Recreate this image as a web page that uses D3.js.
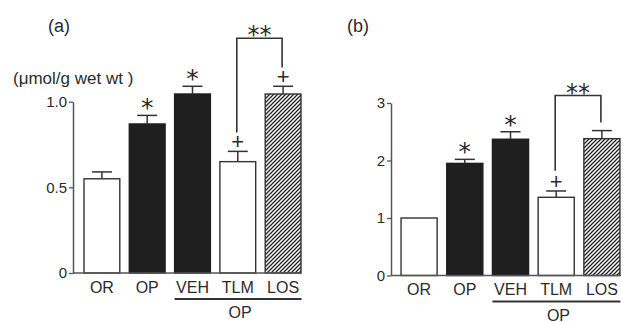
<!DOCTYPE html>
<html><head><meta charset="utf-8">
<script src="https://cdn.jsdelivr.net/npm/d3@7"></script>
<style>
body{margin:0;background:#fff}
text{font-family:"Liberation Sans",Arial,Helvetica,sans-serif;fill:#2b2b2b}
</style>
</head><body>
<svg id="chart" width="621" height="322"></svg>
<script>
// ---- data ----
const categories = ["OR", "OP", "VEH", "TLM", "LOS"];
const groupMembers = ["VEH", "TLM", "LOS"];
const groupLabel = "OP";

const valuesA = [0.55, 0.87, 1.045, 0.65, 1.045];
const errorsA = [0.04, 0.05, 0.045, 0.06, 0.045];
const marksA  = ["", "*", "*", "+", "+"];
const ticksA = [0, 0.5, 1.0];
const tickLabelsA = ["0", "0.5", "1.0"];
const bracketA = {from: "TLM", to: "LOS", fromY: 0.82, topY: 1.37, toY: 1.20, label: "**"};

const valuesB = [1.0, 1.95, 2.37, 1.36, 2.38];
const errorsB = [0, 0.07, 0.13, 0.11, 0.14];
const marksB  = ["", "*", "*", "+", ""];
const ticksB = [0, 1, 2, 3];
const tickLabelsB = ["0", "1", "2", "3"];
const bracketB = {from: "TLM", to: "LOS", fromY: 1.82, topY: 3.13, toY: 2.66, label: "**"};

const unitLabel = "(\u03bcmol/g wet wt )";

// ---- styles ----
const barStyle = {OR: "open", OP: "solid", VEH: "solid", TLM: "open", LOS: "hatch"};
const ink = "#2b2b2b";

const svg = d3.select("#chart");
const defs = svg.append("defs");
const pat = defs.append("pattern").attr("id", "hatch")
  .attr("patternUnits", "userSpaceOnUse").attr("width", 4).attr("height", 4);
pat.append("rect").attr("width", 4).attr("height", 4).attr("fill", "#fff");
pat.append("path").attr("d", "M-1,1 l2,-2 M0,4 l4,-4 M3,5 l2,-2")
  .attr("stroke", "#222").attr("stroke-width", 1.3);

function drawPanel(o) {
  const g = svg.append("g");
  const x = d3.scaleBand().domain(categories).range(o.xRange).paddingInner(0.21).paddingOuter(0.105);
  const y = d3.scaleLinear().domain(o.yDomain).range(o.yRange);
  const bw = x.bandwidth();
  const y0 = y(0);

  // y axis
  const ya = g.append("g").attr("transform", `translate(${o.axisX},0)`)
    .call(d3.axisLeft(y).tickValues(o.ticks).tickFormat((d, i) => o.tickLabels[i])
      .tickSize(4).tickSizeOuter(0).tickPadding(2));
  ya.select(".domain").attr("stroke", "#555").attr("stroke-width", 1.5);
  ya.selectAll(".tick line").attr("stroke", "#555").attr("stroke-width", 1.3);
  ya.selectAll(".tick text").attr("font-size", 15).attr("fill", ink)
    .style("font-family", '"Liberation Sans",Arial,sans-serif');

  // bars
  const data = categories.map((c, i) => ({c, v: o.values[i], e: o.errors[i], m: o.marks[i]}));
  g.selectAll(".bar").data(data).enter().append("rect")
    .attr("x", d => x(d.c)).attr("width", bw)
    .attr("y", d => y(d.v)).attr("height", d => y0 - y(d.v))
    .attr("fill", d => barStyle[d.c] === "solid" ? "#1e1f1e" : barStyle[d.c] === "hatch" ? "url(#hatch)" : "#fff")
    .attr("stroke", d => barStyle[d.c] === "solid" ? "#1e1f1e" : "#333")
    .attr("stroke-width", 1.4);

  // error bars
  const eb = data.filter(d => d.e > 0);
  g.selectAll(".err").data(eb).enter().append("line")
    .attr("x1", d => x(d.c) + bw / 2).attr("x2", d => x(d.c) + bw / 2)
    .attr("y1", d => y(d.v)).attr("y2", d => y(d.v + d.e))
    .attr("stroke", "#333").attr("stroke-width", 1.5);
  g.selectAll(".cap").data(eb).enter().append("line")
    .attr("x1", d => x(d.c) + bw / 2 - 10).attr("x2", d => x(d.c) + bw / 2 + 10)
    .attr("y1", d => y(d.v + d.e)).attr("y2", d => y(d.v + d.e))
    .attr("stroke", "#333").attr("stroke-width", 1.5);

  // markers
  g.selectAll(".mark").data(data.filter(d => d.m)).enter().append("text")
    .attr("x", d => x(d.c) + bw / 2)
    .attr("y", d => y(d.v + d.e) - (d.m === "*" ? -1 : 2))
    .attr("text-anchor", "middle")
    .attr("font-size", d => d.m === "*" ? 25 : 22)
    .style("font-family", d => d.m === "*" ? '"DejaVu Sans",sans-serif' : '"Liberation Sans",Arial,sans-serif')
    .text(d => d.m);

  // x axis line
  g.append("line").attr("x1", o.axisX).attr("x2", x(categories[categories.length - 1]) + bw + 0.5)
    .attr("y1", y0).attr("y2", y0).attr("stroke", "#555").attr("stroke-width", 1.5);
  const xa = g.append("g").attr("transform", `translate(0,${y0})`)
    .call(d3.axisBottom(x).tickSize(0).tickPadding(o.labelPad));
  xa.select(".domain").remove();
  xa.selectAll(".tick text").attr("font-size", 16).attr("fill", ink)
    .style("font-family", '"Liberation Sans",Arial,sans-serif');

  // group line
  const gx1 = x(groupMembers[0]), gx2 = x(groupMembers[groupMembers.length - 1]) + bw + 0.5;
  g.append("line").attr("x1", gx1).attr("x2", gx2).attr("y1", y0 + 26).attr("y2", y0 + 26)
    .attr("stroke", "#333").attr("stroke-width", 1.8);
  g.append("text").attr("x", (gx1 + gx2) / 2 + 2).attr("y", y0 + 45).attr("text-anchor", "middle")
    .attr("font-size", 16).text(groupLabel);

  // bracket
  const b = o.bracket;
  const bx1 = x(b.from) + bw / 2 - 1, bx2 = x(b.to) + bw / 2 - 1;
  g.append("path")
    .attr("d", `M${bx1},${y(b.fromY)}V${y(b.topY)}H${bx2}V${y(b.toY)}`)
    .attr("fill", "none").attr("stroke", "#333").attr("stroke-width", 1.6);
  g.append("text").attr("x", (bx1 + bx2) / 2).attr("y", y(b.topY) + 5)
    .attr("text-anchor", "middle").attr("font-size", 24)
    .style("font-family", '"DejaVu Sans",sans-serif').text(b.label);

  // panel label
  g.append("text").attr("x", o.tagX).attr("y", 32).attr("font-size", 18).text(o.tag);
}

drawPanel({values: valuesA, errors: errorsA, marks: marksA, ticks: ticksA, tickLabels: tickLabelsA,
  yDomain: [0, 1], yRange: [273, 101.7], xRange: [79.25, 305.75], axisX: 73, labelPad: 9,
  bracket: bracketA, tag: "(a)", tagX: 48});
drawPanel({values: valuesB, errors: errorsB, marks: marksB, ticks: ticksB, tickLabels: tickLabelsB,
  yDomain: [0, 3], yRange: [275.5, 103], xRange: [396.25, 624.75], axisX: 391, labelPad: 8,
  bracket: bracketB, tag: "(b)", tagX: 347});

svg.append("text").attr("x", 13).attr("y", 84).attr("font-size", 17).text(unitLabel);
</script>
</body></html>
